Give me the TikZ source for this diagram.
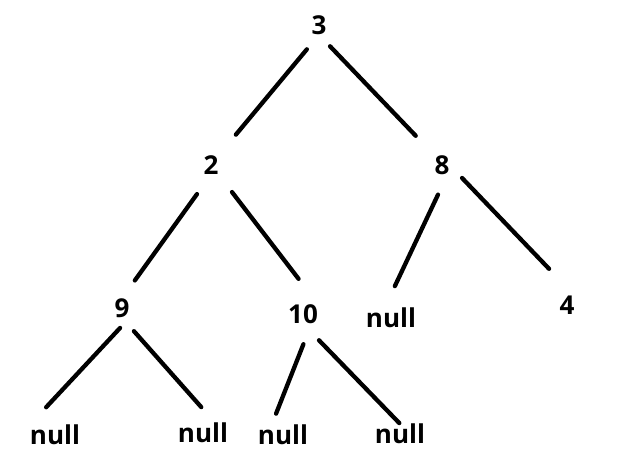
\documentclass[tikz,border=0pt]{standalone}
\usepackage{fontspec}
\setmainfont{Open Sans}

\begin{document}
\begin{tikzpicture}[
    x=1pt, y=-1pt,
    key/.style={font=\fontsize{26}{26}\selectfont\bfseries,
                inner sep=0pt},            % one value of the tree
    edge/.style args={#1/#2}{line width=4.3pt, line cap=round,
                shorten <=#1, shorten >=#2},
 ]
    \useasboundingbox (0,0) rectangle (632,466);
    % ~~~ the values, row by row ~~~~~~~~~~~~~~
    \node[key] (n3)  at (319,25)  {3};
    \node[key] (n2)  at (211,165) {2};
    \node[key] (n8)  at (442,165) {8};
    \node[key] (n9)  at (122,308) {9};
    \node[key] (n10) at (303,314) {10};
    \node[key] (nl5) at (391,318) {null};
    \node[key] (n4)  at (567,305) {4};
    \node[key] (nl1) at (55,435)  {null};
    \node[key] (nl2) at (203,433) {null};
    \node[key] (nl3) at (283,435) {null};
    \node[key] (nl4) at (400,434) {null};
    % ~~~ branches, with their gaps ~~~~~~~~~~~
    \foreach \p/\q/\s/\e in {n3.south/n2.north east/19pt/27pt,
                             n3.south/n8.north west/16pt/27pt,
                             n2.south/n9.north/24pt/22pt,
                             n2.south east/n10.north east/22pt/32pt,
                             n8.-61/nl5.122/22pt/24pt,
                             n8.east/n4.north east/18pt/37pt,
                             n9.south east/nl1.north west/14pt/24pt,
                             n9.south/nl2.40/18pt/21pt,
                             n10.-49/nl3.138/22pt/12pt,
                             n10.south/nl4.north/23pt/1pt}
        \draw[edge={\s/\e}] (\p) -- (\q);
\end{tikzpicture}
\end{document}
